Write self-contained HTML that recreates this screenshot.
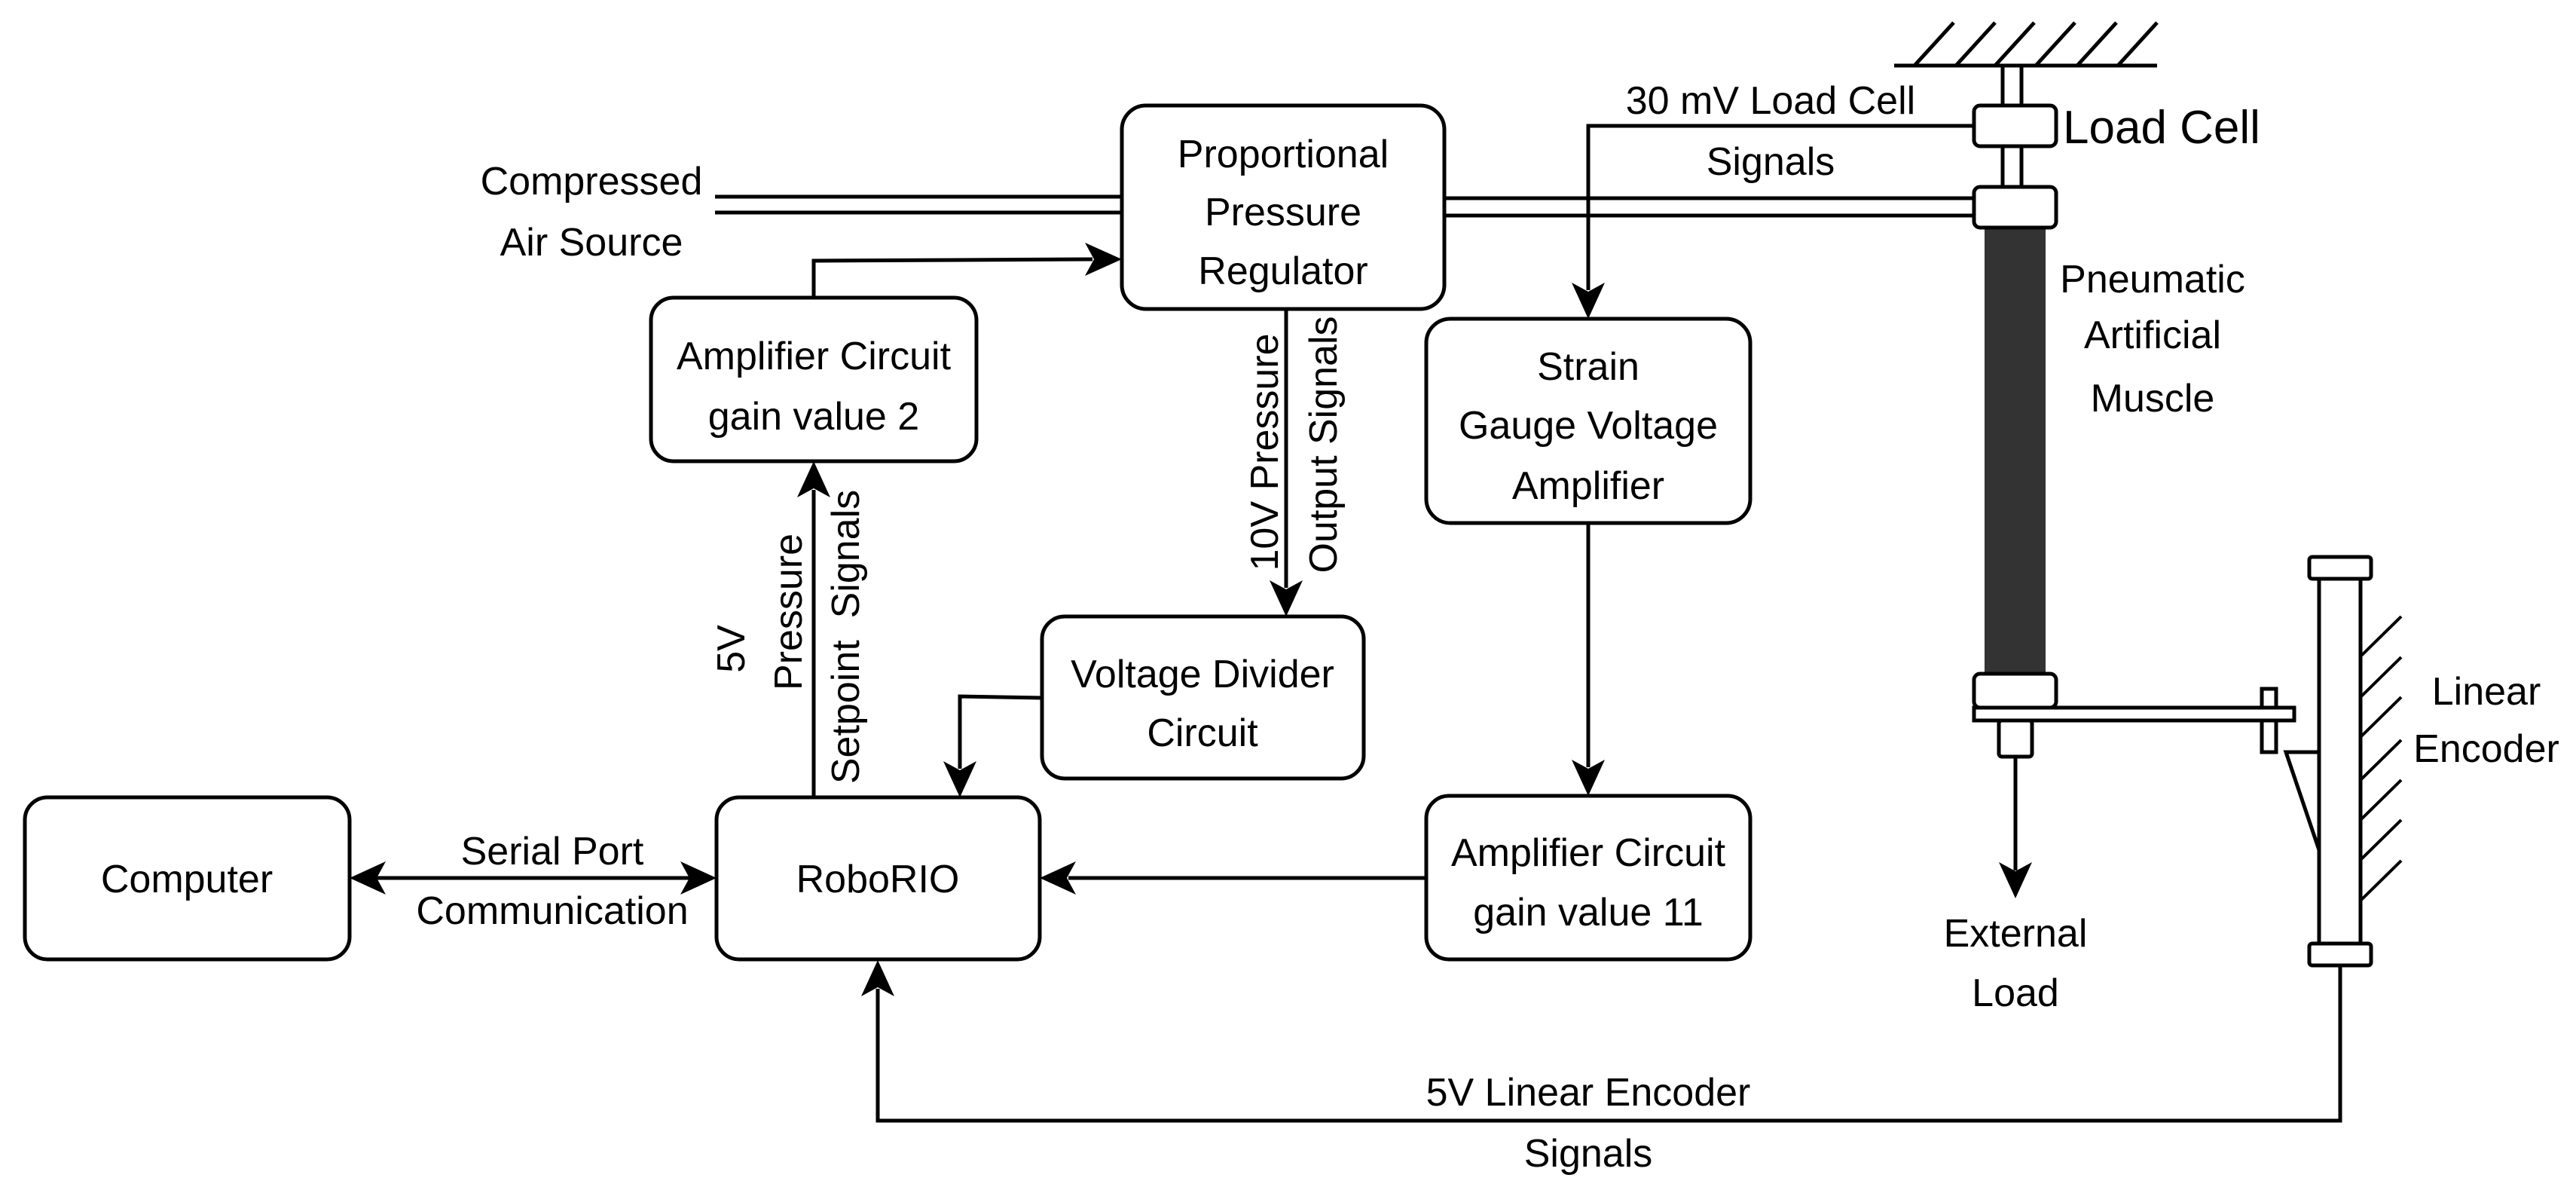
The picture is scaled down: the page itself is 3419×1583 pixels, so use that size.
<!DOCTYPE html>
<html><head><meta charset="utf-8"><style>
html,body{margin:0;padding:0;background:#fff}
svg{display:block}
text{font-family:"Liberation Sans",Arial,sans-serif;font-size:52px;fill:#000}
</style></head><body>
<svg width="3419" height="1583" viewBox="0 0 3419 1583" xmlns="http://www.w3.org/2000/svg">
<g fill="none" stroke="#000" stroke-width="5">
<rect x="33" y="1058" width="431" height="215" rx="30"/>
<rect x="951" y="1058" width="429" height="215" rx="30"/>
<rect x="1489" y="140" width="428" height="270" rx="32"/>
<rect x="864" y="395" width="432" height="217" rx="30"/>
<rect x="1383" y="818" width="427" height="215" rx="30"/>
<rect x="1893" y="423" width="430" height="271" rx="32"/>
<rect x="1893" y="1056" width="430" height="217" rx="30"/>
<line x1="949" y1="261" x2="1489" y2="261"/>
<line x1="949" y1="282" x2="1489" y2="282"/>
<line x1="1917" y1="263" x2="2620" y2="263"/>
<line x1="1917" y1="286" x2="2620" y2="286"/>
<polyline points="1080,395 1080,346 1450,344"/>
<line x1="1080" y1="1058" x2="1080" y2="650"/>
<line x1="1707" y1="410" x2="1707" y2="780"/>
<polyline points="1383,926 1274,924 1274,1020"/>
<line x1="500" y1="1165" x2="915" y2="1165"/>
<line x1="1893" y1="1165" x2="1418" y2="1165"/>
<line x1="2108" y1="694" x2="2108" y2="1018"/>
<polyline points="2620,167 2108,167 2108,385"/>
<polyline points="3106,1280 3106,1487 1165,1487 1165,1312"/>
<line x1="2675" y1="1004" x2="2675" y2="1155"/>
</g>
<g fill="#000">
<polygon points="1489,344 1440,322 1452,344 1440,366"/>
<polygon points="1080,612 1058,660 1080,648 1102,660"/>
<polygon points="1707,818 1685,770 1707,782 1729,770"/>
<polygon points="1274,1058 1252,1010 1274,1022 1296,1010"/>
<polygon points="464,1165 512,1143 500,1165 512,1187"/>
<polygon points="951,1165 903,1143 915,1165 903,1187"/>
<polygon points="1380,1165 1428,1143 1416,1165 1428,1187"/>
<polygon points="2108,1056 2086,1008 2108,1020 2130,1008"/>
<polygon points="2108,423 2086,375 2108,387 2130,375"/>
<polygon points="1165,1274 1143,1322 1165,1310 1187,1322"/>
<polygon points="2675,1192 2653,1144 2675,1156 2697,1144"/>
</g>
<g fill="none" stroke="#000" stroke-width="5">
<line x1="2514" y1="87" x2="2863" y2="87"/>
<line x1="2593" y1="30" x2="2541" y2="87"/>
<line x1="2648" y1="30" x2="2596" y2="87"/>
<line x1="2700" y1="30" x2="2648" y2="87"/>
<line x1="2754" y1="30" x2="2702" y2="87"/>
<line x1="2809" y1="30" x2="2757" y2="87"/>
<line x1="2863" y1="30" x2="2811" y2="87"/>
<rect x="2658" y="87" width="25" height="53" fill="#fff"/>
<rect x="2658" y="194" width="25" height="54" fill="#fff"/>
</g>
<rect x="2634" y="300" width="81" height="596" fill="#333"/>
<g fill="#fff" stroke="#000" stroke-width="5">
<rect x="2620" y="140" width="109" height="54" rx="8"/>
<rect x="2620" y="248" width="109" height="54" rx="8"/>
<rect x="2620" y="894" width="109" height="45" rx="8"/>
<rect x="2620" y="939" width="425" height="17"/>
<rect x="3002" y="914" width="19" height="25"/>
<rect x="3002" y="956" width="19" height="42"/>
<rect x="2653" y="956" width="44" height="48" rx="4"/>
<rect x="3078" y="768" width="55" height="484"/>
<rect x="3065" y="739" width="82" height="29" rx="4"/>
<rect x="3065" y="1252" width="82" height="29" rx="4"/>
<polygon points="3034,998 3078,998 3078,1128"/>
</g>
<g stroke="#000" stroke-width="4">
<line x1="3187" y1="818" x2="3133" y2="871"/>
<line x1="3187" y1="872" x2="3133" y2="925"/>
<line x1="3187" y1="925" x2="3133" y2="978"/>
<line x1="3187" y1="982" x2="3133" y2="1035"/>
<line x1="3187" y1="1035" x2="3133" y2="1088"/>
<line x1="3187" y1="1088" x2="3133" y2="1141"/>
<line x1="3187" y1="1142" x2="3133" y2="1195"/>
</g>
<g text-anchor="middle">
<text x="248" y="1184">Computer</text>
<text x="1165" y="1184">RoboRIO</text>
<text x="733" y="1147">Serial Port</text>
<text x="733" y="1226">Communication</text>
<text x="1703" y="222">Proportional</text>
<text x="1703" y="299">Pressure</text>
<text x="1703" y="377">Regulator</text>
<text x="1080" y="490">Amplifier Circuit</text>
<text x="1080" y="570">gain value 2</text>
<text x="1596" y="912">Voltage Divider</text>
<text x="1596" y="990">Circuit</text>
<text x="2108" y="504">Strain</text>
<text x="2108" y="582">Gauge Voltage</text>
<text x="2108" y="662">Amplifier</text>
<text x="2108" y="1149">Amplifier Circuit</text>
<text x="2108" y="1228">gain value 11</text>
<text x="785" y="258">Compressed</text>
<text x="785" y="339">Air Source</text>
<text x="2350" y="151">30 mV Load Cell</text>
<text x="2350" y="232">Signals</text>
<text x="2857" y="388">Pneumatic</text>
<text x="2857" y="462">Artificial</text>
<text x="2857" y="546">Muscle</text>
<text x="2675" y="1256">External</text>
<text x="2675" y="1335">Load</text>
<text x="3300" y="935">Linear</text>
<text x="3300" y="1011">Encoder</text>
<text x="2108" y="1467">5V Linear Encoder</text>
<text x="2108" y="1548">Signals</text>
<text transform="translate(988,861) rotate(-90)">5V</text>
<text transform="translate(1064,812) rotate(-90)">Pressure</text>
<text transform="translate(1140,845) rotate(-90)">Setpoint&#160;&#160;Signals</text>
<text transform="translate(1696,600) rotate(-90)">10V Pressure</text>
<text transform="translate(1774,590) rotate(-90)">Output Signals</text>
</g>
<text x="2738" y="190" style="font-size:62px">Load Cell</text>
</svg>
</body></html>
